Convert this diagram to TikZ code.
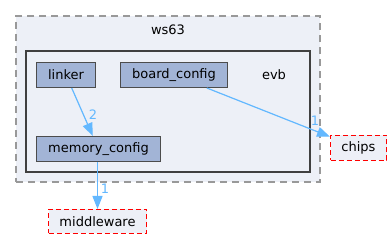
\documentclass[tikz,border=0pt]{standalone}
\usepackage{fontspec}
\setmainfont{DejaVu Sans}
\usetikzlibrary{arrows.meta, positioning, fit, backgrounds}

\definecolor{dirfill}{HTML}{A2B4D6}
\definecolor{grpfill}{HTML}{EDF0F7}
\definecolor{extred}{HTML}{FF0000}
\definecolor{edgeblue}{HTML}{63B8FF}

\begin{document}
\begin{tikzpicture}[
    x=1pt, y=-1pt,
    font=\fontsize{13}{15}\selectfont,
    dir/.style={rectangle, minimum height=25pt, inner sep=0pt, align=center, draw=black!70, line width=1pt, fill=dirfill},
    ext/.style={rectangle, minimum height=25pt, inner sep=0pt, align=center, draw=extred, dash pattern=on 5pt off 3pt, line width=1pt, fill=grpfill},
    grp/.style={rectangle, inner sep=0pt, draw=black!40, dash pattern=on 7pt off 5pt, line width=1.3pt, fill=grpfill},
    sub/.style={rectangle, inner sep=0pt, draw=black!75, line width=2pt, fill=grpfill},
    arrow/.style={-{Triangle[length=13pt, width=10pt]}, draw=edgeblue, fill=edgeblue, line width=1.2pt},
    num/.style={text=edgeblue, inner sep=0pt}
]
    \useasboundingbox (0,0) rectangle (392,240);

    % Folders
    \coordinate (ws63nw) at (16,16);
    \coordinate (ws63se) at (320,182);
    \coordinate (evbnw) at (26,51);
    \coordinate (evbse) at (310,172);
    \node[grp, fit=(ws63nw)(ws63se)] (ws63) {};
    \node[sub, fit=(evbnw)(evbse)] (evb) {};
    \node[below=6pt of ws63.north] (ws63label) {ws63};
    \node at (274,75) (evblabel) {evb};

    % Directories
    \node[dir, minimum width=59pt] at (66,75) (linker) {linker};
    \node[dir, minimum width=107pt, right=24pt of linker] (board) {board\_config};
    \node[dir, minimum width=124pt, below=48pt of linker.south west, anchor=north west] (memory) {memory\_config};

    % External directories
    \node[ext, minimum width=56pt] at (358.5,148) (chips) {chips};
    \node[ext, minimum width=98pt, minimum height=24pt] at (97.5,221.5) (middleware) {middleware};

    % Dependencies
    \draw[arrow] (linker) -- (memory);
    \draw[arrow] (board) -- (chips);
    \draw[arrow] (memory.south -| middleware) -- (middleware);

    % Counts
    \node[num] at (93,115) (n2) {2};
    \node[num] at (315,121) (n1a) {1};
    \node[num] at (105,189) (n1b) {1};

\end{tikzpicture}
\end{document}
